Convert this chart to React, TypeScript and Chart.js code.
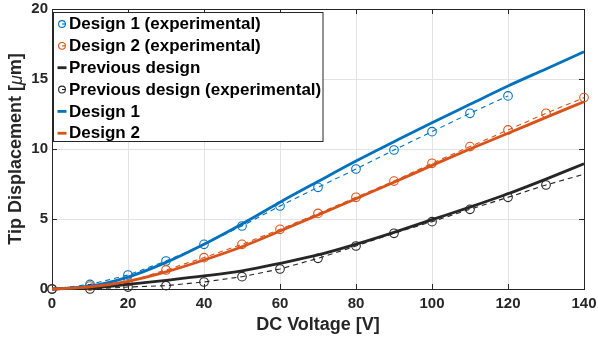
import { useEffect, useRef } from 'react';
import { Chart, registerables } from 'chart.js';

Chart.register(...registerables);

// ---- data ----
const voltage = [0, 10, 20, 30, 40, 50, 60, 70, 80, 90, 100, 110, 120, 130, 140];

const design1Exp = [0, 0.33, 1.0, 2.0, 3.19, 4.5, 5.93, 7.26, 8.57, 9.93, 11.24, 12.55, 13.79];
const design2Exp = [0, 0.21, 0.52, 1.36, 2.24, 3.19, 4.26, 5.4, 6.55, 7.71, 8.98, 10.17, 11.36, 12.55, 13.67];
const previousExp = [0, 0, 0.14, 0.24, 0.5, 0.88, 1.43, 2.19, 3.07, 3.98, 4.81, 5.69, 6.55, 7.43, 8.2];
const previousExpMarkers = [1, 1, 1, 1, 1, 1, 1, 1, 1, 1, 1, 1, 1, 1, 0];

const design1Fit = [0, 0.2, 0.85, 1.9, 3.2, 4.65, 6.2, 7.68, 9.14, 10.52, 11.88, 13.19, 14.5, 15.72, 16.95];
const design2Fit = [0, 0.15, 0.55, 1.22, 2.07, 3.02, 4.14, 5.29, 6.45, 7.62, 8.83, 10.0, 11.12, 12.26, 13.38];
const previousFit = [0, 0.08, 0.33, 0.62, 0.93, 1.3, 1.83, 2.43, 3.2, 4.05, 4.95, 5.85, 6.8, 7.85, 8.95];

const xTicks = [0, 20, 40, 60, 80, 100, 120, 140];
const yTicks = [0, 5, 10, 15, 20];

const xTitle = 'DC Voltage [V]';
const yTitleParts = [
  { text: 'Tip Displacement [', italic: false },
  { text: 'μ', italic: true },
  { text: 'm]', italic: false },
];

const BLUE = '#0072BD';
const ORANGE = '#D95319';
const DARK = '#262626';
const FONT = '"Liberation Sans", Arial, Helvetica, sans-serif';

const legendEntries = [
  { label: 'Design 1 (experimental)', color: BLUE, kind: 'marker' },
  { label: 'Design 2 (experimental)', color: ORANGE, kind: 'marker' },
  { label: 'Previous design', color: DARK, kind: 'line' },
  { label: 'Previous design (experimental)', color: DARK, kind: 'marker' },
  { label: 'Design 1', color: BLUE, kind: 'line' },
  { label: 'Design 2', color: ORANGE, kind: 'line' },
];

const toPoints = (ys: number[]) => ys.map((y, i) => ({ x: voltage[i], y }));

const expDataset = (label: string, ys: number[], color: string, order: number, shown?: number[]) => ({
  label,
  data: toPoints(ys),
  borderColor: color,
  backgroundColor: 'transparent',
  borderWidth: 1.1,
  borderDash: [5, 4],
  pointStyle: 'circle',
  pointRadius: (ctx: any) => (shown && !shown[ctx.dataIndex] ? 0 : 4.3),
  pointBorderWidth: 1.1,
  pointBorderColor: color,
  pointBackgroundColor: 'transparent',
  tension: 0,
  clip: false as any,
  order,
});

const fitDataset = (label: string, ys: number[], color: string, order: number) => ({
  label,
  data: toPoints(ys),
  borderColor: color,
  backgroundColor: 'transparent',
  borderWidth: 2.8,
  pointRadius: 0,
  cubicInterpolationMode: 'monotone' as const,
  clip: false as any,
  order,
});

const zeroPad = (s: any) => {
  s.paddingLeft = 0;
  s.paddingRight = 0;
  s.paddingTop = 0;
  s.paddingBottom = 0;
};

const framePlugin = {
  id: 'frame',
  beforeDatasetsDraw(chart: any) {
    const { ctx, chartArea: a, scales } = chart;
    ctx.save();
    ctx.strokeStyle = DARK;
    ctx.lineWidth = 1;
    const tl = 5;
    ctx.beginPath();
    xTicks.forEach((v) => {
      const px = Math.round(scales.x.getPixelForValue(v)) + 0.5;
      ctx.moveTo(px, a.bottom);
      ctx.lineTo(px, a.bottom - tl);
      ctx.moveTo(px, a.top);
      ctx.lineTo(px, a.top + tl);
    });
    yTicks.forEach((v) => {
      const py = Math.round(scales.y.getPixelForValue(v)) + 0.5;
      ctx.moveTo(a.left, py);
      ctx.lineTo(a.left + tl, py);
      ctx.moveTo(a.right, py);
      ctx.lineTo(a.right - tl, py);
    });
    ctx.stroke();
    ctx.strokeRect(Math.round(a.left) + 0.5, Math.round(a.top) + 0.5, Math.round(a.right - a.left), Math.round(a.bottom - a.top));
    ctx.restore();
  },
  afterDraw(chart: any) {
    const { ctx, chartArea: a } = chart;
    ctx.save();
    // x title
    ctx.fillStyle = DARK;
    ctx.font = `bold 18px ${FONT}`;
    ctx.textAlign = 'center';
    ctx.textBaseline = 'middle';
    ctx.fillText(xTitle, (a.left + a.right) / 2, 325);

    // y title (mixed fonts)
    const fontFor = (it: boolean) => (it ? `italic 18px ${FONT}` : `bold 18px ${FONT}`);
    let total = 0;
    const widths = yTitleParts.map((p) => {
      ctx.font = fontFor(p.italic);
      const w = ctx.measureText(p.text).width;
      total += w;
      return w;
    });
    ctx.translate(16.5, (a.top + a.bottom) / 2);
    ctx.rotate(-Math.PI / 2);
    ctx.textAlign = 'left';
    let cx = -total / 2;
    yTitleParts.forEach((p, i) => {
      ctx.font = fontFor(p.italic);
      ctx.fillText(p.text, cx, 0);
      cx += widths[i];
    });
    ctx.restore();

    // legend
    ctx.save();
    const lx = 53.5, ly = 12.5, lw = 269.5, lh = 129;
    ctx.fillStyle = '#ffffff';
    ctx.fillRect(lx, ly, lw, lh);
    ctx.strokeStyle = DARK;
    ctx.lineWidth = 1;
    ctx.strokeRect(lx, ly, lw, lh);
    ctx.font = `bold 17px ${FONT}`;
    ctx.textBaseline = 'middle';
    ctx.textAlign = 'left';
    legendEntries.forEach((e, i) => {
      const y = 24 + i * 21.85;
      if (e.kind === 'line') {
        ctx.strokeStyle = e.color;
        ctx.lineWidth = 2.8;
        ctx.beginPath();
        ctx.moveTo(57.5, y);
        ctx.lineTo(66.5, y);
        ctx.stroke();
      } else {
        ctx.strokeStyle = e.color;
        ctx.lineWidth = 1.1;
        ctx.beginPath();
        ctx.arc(62, y, 3.4, 0, Math.PI * 2);
        ctx.stroke();
        ctx.beginPath();
        ctx.moveTo(62, y);
        ctx.lineTo(65.4, y);
        ctx.stroke();
      }
      ctx.fillStyle = '#000000';
      ctx.fillText(e.label, 69, y + 0.5);
    });
    ctx.restore();
  },
};

export default function App() {
  const ref = useRef<HTMLCanvasElement | null>(null);

  useEffect(() => {
    if (!ref.current) return;
    const chart = new Chart(ref.current, {
      type: 'line',
      data: {
        datasets: [
          expDataset('Design 1 (experimental)', design1Exp, BLUE, 6),
          expDataset('Design 2 (experimental)', design2Exp, ORANGE, 5),
          fitDataset('Previous design', previousFit, DARK, 4),
          expDataset('Previous design (experimental)', previousExp, DARK, 3, previousExpMarkers),
          fitDataset('Design 1', design1Fit, BLUE, 2),
          fitDataset('Design 2', design2Fit, ORANGE, 1),
        ] as any,
      },
      options: {
        animation: false,
        responsive: false,
        devicePixelRatio: 1,
        layout: { padding: { left: 0, right: 14, top: 9, bottom: 0 } },
        plugins: { legend: { display: false }, tooltip: { enabled: false } },
        scales: {
          x: {
            type: 'linear',
            min: 0,
            max: 140,
            afterBuildTicks: (s: any) => {
              s.ticks = xTicks.map((v) => ({ value: v }));
            },
            afterFit: (s: any) => {
              s.height = 57;
              zeroPad(s);
            },
            grid: { color: '#e3e3e3', lineWidth: 1, drawTicks: false },
            border: { display: false },
            ticks: {
              padding: 6,
              color: DARK,
              font: { family: FONT, size: 15, weight: 'bold' },
              maxRotation: 0,
            },
          },
          y: {
            type: 'linear',
            min: 0,
            max: 20,
            afterBuildTicks: (s: any) => {
              s.ticks = yTicks.map((v) => ({ value: v }));
            },
            afterFit: (s: any) => {
              s.width = 52;
              zeroPad(s);
            },
            grid: { color: '#e3e3e3', lineWidth: 1, drawTicks: false },
            border: { display: false },
            ticks: {
              padding: 4,
              color: DARK,
              font: { family: FONT, size: 15, weight: 'bold' },
            },
          },
        },
      },
      plugins: [framePlugin],
    });
    return () => chart.destroy();
  }, []);

  return (
    <div style={{ position: 'fixed', left: 0, top: 0, width: 598, height: 346, background: '#ffffff' }}>
      <canvas ref={ref} width={598} height={346} style={{ width: 598, height: 346, display: 'block' }} />
    </div>
  );
}
